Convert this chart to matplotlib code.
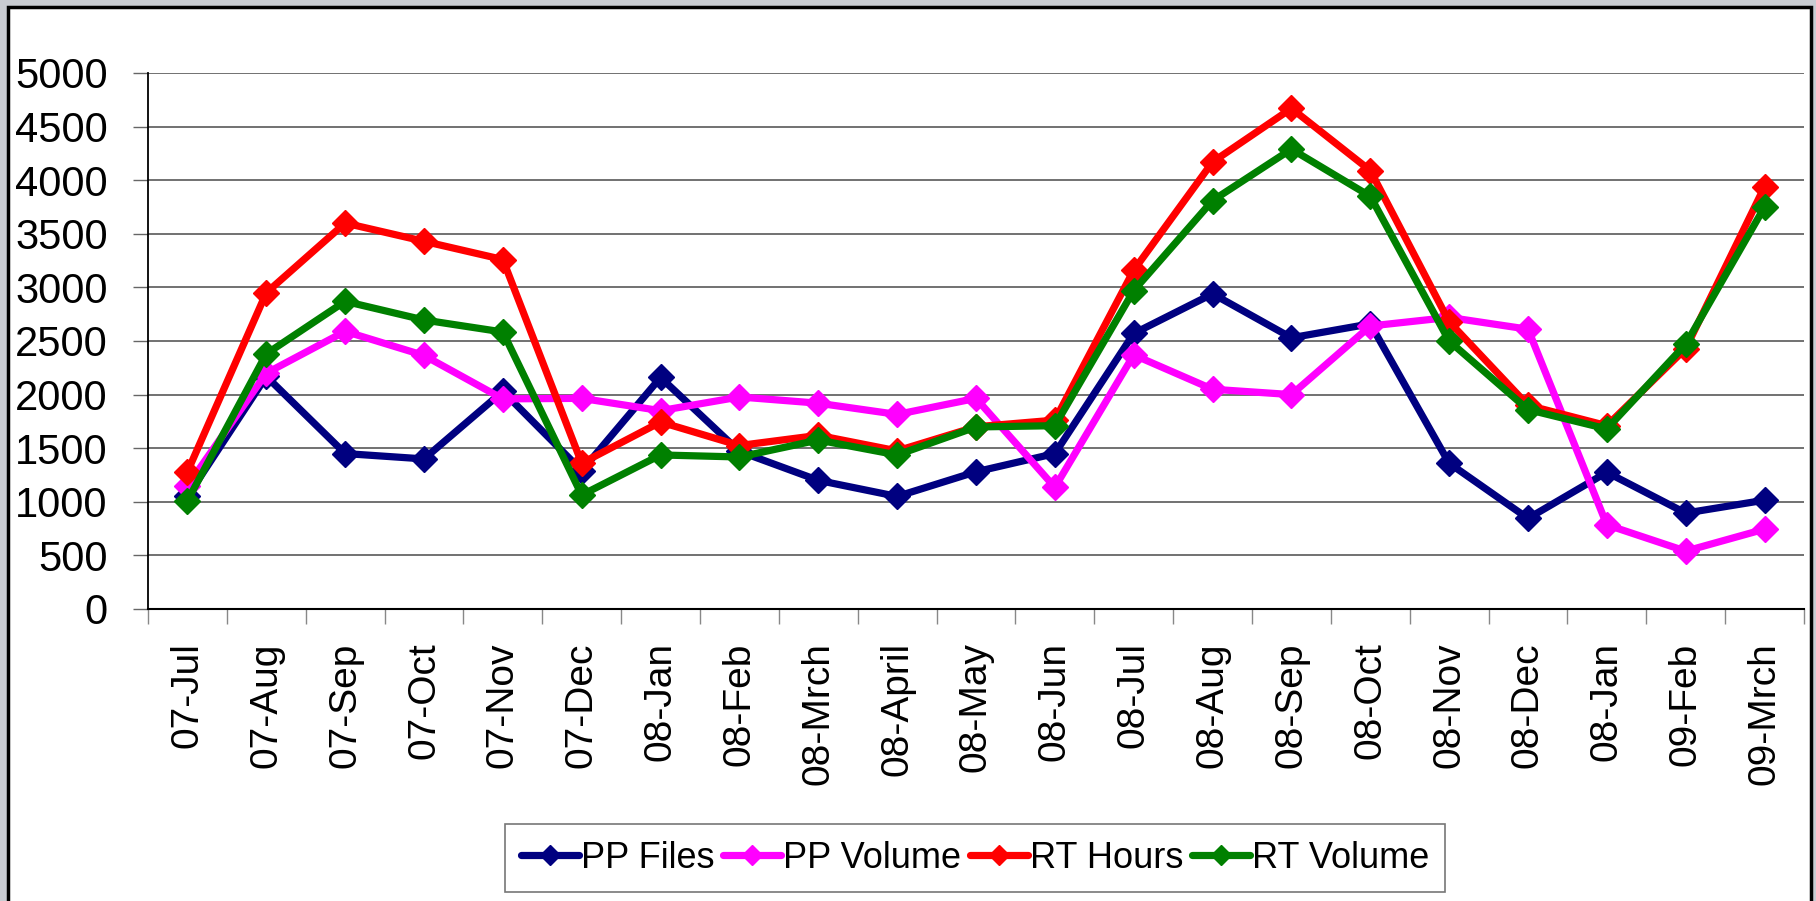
import matplotlib
matplotlib.use("Agg")
import matplotlib.pyplot as plt
from matplotlib.patches import Rectangle
import numpy as np

months = ["07-Jul", "07-Aug", "07-Sep", "07-Oct", "07-Nov", "07-Dec",
          "08-Jan", "08-Feb", "08-Mrch", "08-April", "08-May", "08-Jun",
          "08-Jul", "08-Aug", "08-Sep", "08-Oct", "08-Nov", "08-Dec",
          "08-Jan", "09-Feb", "09-Mrch"]

pp_files = [1050, 2170, 1450, 1400, 2030, 1290, 2160, 1470, 1200, 1050, 1280,
            1450, 2570, 2940, 2530, 2660, 1360, 845, 1275, 895, 1015]
pp_volume = [1150, 2200, 2590, 2365, 1960, 1965, 1850, 1978, 1920, 1815, 1965,
             1135, 2370, 2050, 2000, 2640, 2720, 2610, 785, 540, 745]
rt_hours = [1280, 2950, 3600, 3430, 3260, 1360, 1744, 1525, 1620, 1475, 1700,
            1762, 3160, 4170, 4670, 4090, 2680, 1900, 1710, 2430, 3940]
rt_volume = [1010, 2380, 2870, 2696, 2584, 1063, 1437, 1418, 1576, 1437, 1698,
             1710, 2970, 3810, 4290, 3850, 2500, 1860, 1680, 2470, 3750]

series = [
    ("PP Files", pp_files, "#000080"),
    ("PP Volume", pp_volume, "#ff00ff"),
    ("RT Hours", rt_hours, "#ff0000"),
    ("RT Volume", rt_volume, "#008000"),
]

plt.rcParams["font.family"] = ["Liberation Sans", "DejaVu Sans"]

fig = plt.figure(figsize=(18.16, 9.01), dpi=100, facecolor="#c9ccd2")

# white chart panel with black frame
panel = Rectangle((8 / 1816, -0.05), (1811 - 8) / 1816, 1.05 - 7 / 901,
                  transform=fig.transFigure, facecolor="white",
                  edgecolor="black", linewidth=2.5, zorder=-10)
fig.patches.append(panel)

ax = fig.add_axes([148 / 1816, 1 - 609 / 901, (1804 - 148) / 1816, (609 - 73) / 901])
ax.set_facecolor("none")
ax.set_zorder(5)

x = np.arange(len(months))
for name, vals, col in series:
    ax.plot(x, vals, color=col, linewidth=5.2, marker="D", markersize=13,
            label=name, solid_joinstyle="miter", solid_capstyle="round")

ax.set_xlim(-0.5, len(months) - 0.5)
ax.set_ylim(0, 5000)
ax.set_yticks(np.arange(0, 5001, 500))
ax.yaxis.grid(True, color="#666666", linewidth=1.3)
ax.set_axisbelow(True)

ax.set_xticks(x)
ax.set_xticklabels(months, rotation=90, fontsize=28)
ax.set_xticks(np.arange(-0.5, len(months)), minor=True)
ax.tick_params(axis="x", which="major", length=0, pad=24)
ax.tick_params(axis="x", which="minor", length=11, width=1, color="#888888")
ax.tick_params(axis="y", labelsize=30, length=11, width=1, color="#666666", pad=18)

for s in ["top", "right"]:
    ax.spines[s].set_visible(False)
ax.spines["left"].set_linewidth(1.3)
ax.spines["bottom"].set_linewidth(1.5)

leg = fig.legend(loc="center", bbox_to_anchor=(975 / 1816, 1 - 858 / 901),
                 ncol=4, fontsize=26, frameon=True, fancybox=False,
                 edgecolor="#555555", handlelength=1.6, handletextpad=0.05,
                 columnspacing=0.25, borderpad=0.45, markerscale=0.8)
leg.get_frame().set_linewidth(1.2)
leg.set_zorder(6)

fig.savefig("out.png", dpi=100, facecolor=fig.get_facecolor())
